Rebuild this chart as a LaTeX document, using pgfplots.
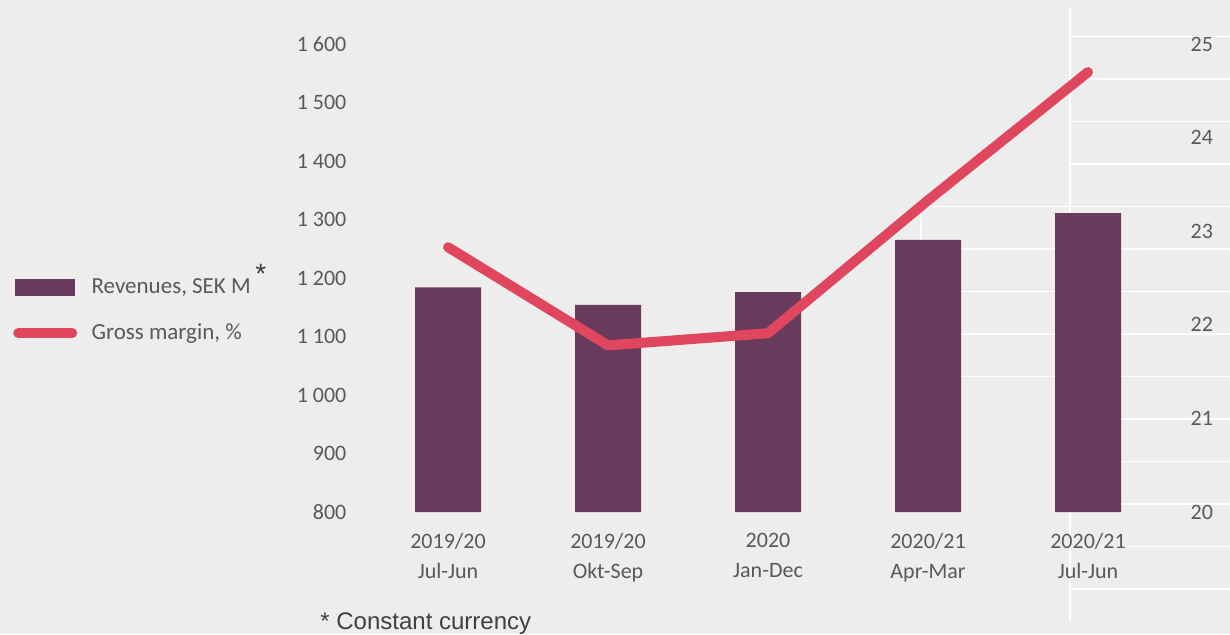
\documentclass[border=0pt]{standalone}
\usepackage{pgfplots}
\pgfplotsset{compat=1.18}
\usepackage{fontspec}
\setmainfont{Carlito}
\newfontfamily\arial{Liberation Sans}
\definecolor{bg}{HTML}{EDEDED}
\definecolor{barc}{HTML}{683A5B}
\definecolor{linec}{HTML}{E0475F}
\definecolor{txt}{HTML}{595959}
\definecolor{foot}{HTML}{404040}
\begin{document}
\begin{tikzpicture}[x=1pt,y=1pt]
\fill[bg] (0,0) rectangle (615,317);
\useasboundingbox (0,0) rectangle (615,317);
% faint white background grid (decoration)
\begin{scope}[white, line width=0.6pt]
\draw (535,313) -- (535,7);
\foreach \yy in {298.75,277.5,256.25,235,213.75,192.5,171.25,150,128.75,107.5,86.25,65,43.75,22.5}
  \draw (535,\yy) -- (615,\yy);
\foreach \yy in {213.75,192.5,171.25,150,128.75}
  \draw (460.5,\yy) -- (535,\yy);
\draw (460.5,213.75) -- (460.5,128.75);
\end{scope}
\begin{axis}[
  at={(184pt,61pt)}, anchor=south west,
  scale only axis, width=400pt, height=234pt,
  xmin=-0.5, xmax=4.5, ymin=800, ymax=1600,
  axis line style={draw=none},
  major tick length=0pt,
  xtick={0,1,2,3,4},
  xticklabels={{2019/20\\Jul-Jun},{2019/20\\Okt-Sep},{2020\\Jan-Dec},{2020/21\\Apr-Mar},{2020/21\\Jul-Jun}},
  xticklabel style={align=center, text=txt, font=\fontsize{11}{15}\selectfont, yshift=-7pt},
  ytick={800,900,1000,1100,1200,1300,1400,1500,1600},
  yticklabels={800,900,1 000,1 100,1 200,1 300,1 400,1 500,1 600},
  yticklabel style={text=txt, font=\fontsize{11}{13}\selectfont, xshift=-7.3pt},
  clip=false,
]
\addplot[ybar, bar width=33pt, fill=barc, draw=none] coordinates {(0,1184) (1,1154) (2,1176) (3,1265) (4,1311)};
\end{axis}
\begin{axis}[
  at={(184pt,61pt)}, anchor=south west,
  scale only axis, width=400pt, height=234pt,
  xmin=-0.5, xmax=4.5, ymin=20, ymax=25,
  axis x line=none,
  axis y line*=right,
  axis line style={draw=none},
  major tick length=0pt,
  ytick={20,21,22,23,24,25},
  yticklabel style={text=txt, font=\fontsize{11}{13}\selectfont, xshift=7.8pt, /pgf/number format/assume math mode=true},
  clip=false,
  legend style={at={(axis description cs:-0.4445,0.43)}, anchor=west, draw=none, fill=none,
    font=\fontsize{11.5}{14}\selectfont, text=txt, row sep=9.5pt, column sep=5pt, inner sep=0pt},
  legend cell align=left,
]
\addlegendimage{legend image code/.code={\path (0pt,0pt) (32pt,0pt); \fill[barc] (1pt,-4pt) rectangle (30.5pt,4pt);}}
\addlegendentry{Revenues, SEK M}
\addplot[linec, line width=5pt, line cap=round, line join=round,
  legend image code/.code={\draw[linec, line width=5pt, line cap=round] (2.5pt,0pt) -- (29.5pt,0pt);}]
  coordinates {(0,22.83) (1,21.78) (2,21.91) (3,23.33) (4,24.70)};
\addlegendentry{Gross margin, \%}
\end{axis}
\node[anchor=base west, inner sep=0pt, text=foot, font=\arial\fontsize{14}{16}\selectfont] at (127.5,175.5) {*};
\node[anchor=base west, inner sep=0pt, text=foot, font=\arial\fontsize{12}{14}\selectfont] at (160,2.5) {* Constant currency};
\end{tikzpicture}
\end{document}
